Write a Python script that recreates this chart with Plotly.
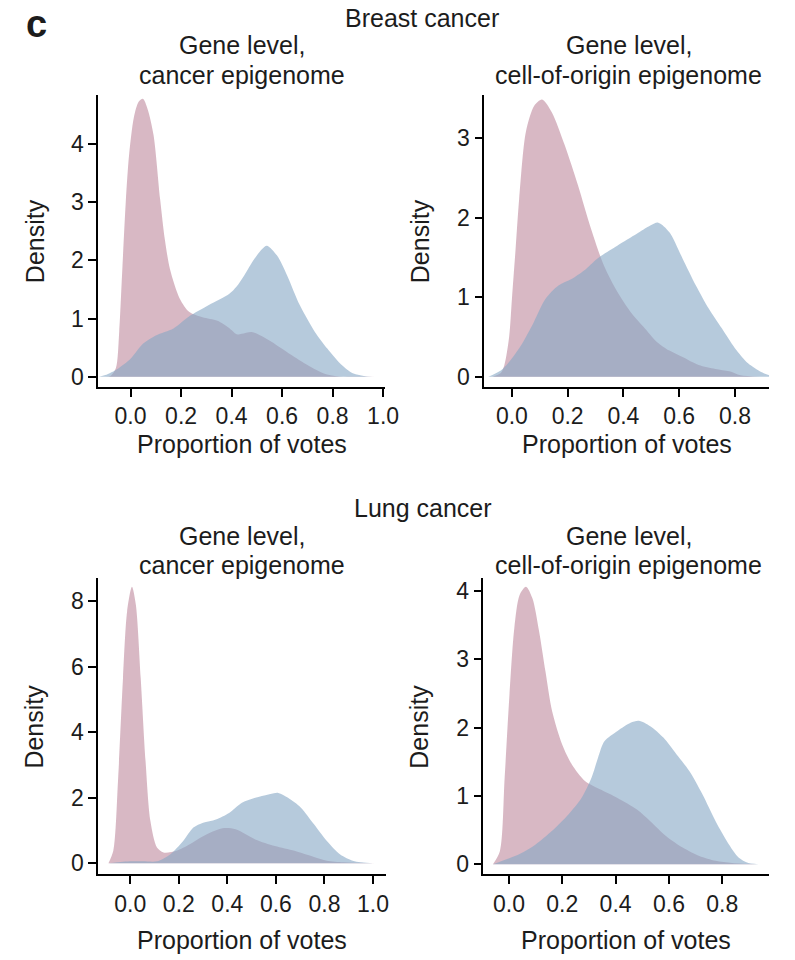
import plotly.graph_objects as go

# ---- density curves (proportion of votes -> density) ----
# Breast cancer, gene level, cancer epigenome
bc_ce_pink_x = [-0.10, -0.078, -0.058, -0.045, -0.032, -0.019, -0.006, 0.013, 0.032, 0.049, 0.067,
                0.091, 0.117, 0.136, 0.156, 0.195, 0.233, 0.285, 0.344, 0.389, 0.42, 0.44, 0.48,
                0.519, 0.558, 0.649, 0.726, 0.778, 0.843, 0.97]
bc_ce_pink_y = [0.0, 0.02, 0.15, 0.77, 1.9, 3.0, 3.8, 4.45, 4.72, 4.77, 4.6,
                4.15, 3.05, 2.35, 1.85, 1.34, 1.11, 1.02, 0.96, 0.84, 0.73, 0.74, 0.77,
                0.70, 0.60, 0.34, 0.14, 0.04, 0.0, 0.0]
bc_ce_blue_x = [-0.125, -0.10, -0.05, 0.0, 0.05, 0.10, 0.17, 0.23, 0.31, 0.39, 0.42, 0.45, 0.49,
                0.52, 0.54, 0.58, 0.62, 0.67, 0.73, 0.78, 0.83, 0.88, 0.93, 0.97]
bc_ce_blue_y = [0.0, 0.03, 0.14, 0.31, 0.57, 0.71, 0.83, 1.03, 1.23, 1.42, 1.55, 1.74, 2.02,
                2.19, 2.25, 2.08, 1.74, 1.23, 0.77, 0.48, 0.23, 0.06, 0.01, 0.0]

# Breast cancer, gene level, cell-of-origin epigenome
bc_co_pink_x = [-0.07, -0.04, -0.027, -0.01, 0.0, 0.013, 0.026, 0.05, 0.08, 0.108, 0.143, 0.19,
                0.237, 0.284, 0.33, 0.378, 0.425, 0.472, 0.52, 0.565, 0.612, 0.67, 0.73, 0.78,
                0.82, 0.89]
bc_co_pink_y = [0.0, 0.05, 0.15, 0.5, 0.98, 1.6, 2.24, 3.08, 3.41, 3.49, 3.33, 2.91,
                2.41, 1.86, 1.40, 1.07, 0.82, 0.63, 0.44, 0.33, 0.25, 0.15, 0.10, 0.07,
                0.02, 0.0]
bc_co_blue_x = [-0.085, -0.033, 0.026, 0.073, 0.12, 0.167, 0.214, 0.26, 0.307, 0.378, 0.448,
                0.495, 0.525, 0.565, 0.612, 0.66, 0.706, 0.753, 0.80, 0.847, 0.894, 0.923]
bc_co_blue_y = [0.0, 0.10, 0.36, 0.65, 0.98, 1.15, 1.23, 1.34, 1.49, 1.65, 1.80,
                1.90, 1.94, 1.82, 1.49, 1.15, 0.86, 0.61, 0.36, 0.17, 0.06, 0.02]

# Lung cancer, gene level, cancer epigenome
lc_ce_pink_x = [-0.09, -0.07, -0.05, -0.03, -0.013, 0.007, 0.023, 0.043, 0.063, 0.083, 0.11,
                0.137, 0.19, 0.245, 0.30, 0.38, 0.434, 0.515, 0.596, 0.677, 0.757, 0.81, 0.88,
                1.01]
lc_ce_pink_y = [0.0, 0.38, 2.6, 5.66, 7.7, 8.45, 7.9, 5.66, 3.12, 1.29, 0.48,
                0.33, 0.38, 0.58, 0.83, 1.07, 1.04, 0.73, 0.53, 0.38, 0.19, 0.08, 0.03,
                0.0]
lc_ce_blue_x = [-0.09, -0.03, 0.05, 0.11, 0.164, 0.218, 0.26, 0.30, 0.353, 0.407, 0.46, 0.515,
                0.569, 0.61, 0.65, 0.703, 0.757, 0.81, 0.865, 0.92, 1.0]
lc_ce_blue_y = [0.0, 0.05, 0.06, 0.06, 0.27, 0.68, 1.09, 1.24, 1.34, 1.54, 1.85, 2.0,
                2.1, 2.15, 2.0, 1.70, 1.19, 0.68, 0.27, 0.07, 0.0]

# Lung cancer, gene level, cell-of-origin epigenome
lc_co_pink_x = [-0.06, -0.034, -0.016, 0.002, 0.02, 0.04, 0.064, 0.088, 0.113, 0.137, 0.162,
                0.20, 0.236, 0.285, 0.346, 0.407, 0.48, 0.53, 0.59, 0.653, 0.714, 0.775, 0.837,
                0.95]
lc_co_pink_y = [0.0, 0.19, 1.27, 2.48, 3.45, 3.94, 4.06, 3.89, 3.41, 2.82, 2.24,
                1.75, 1.46, 1.22, 1.09, 0.97, 0.80, 0.63, 0.41, 0.24, 0.12, 0.05, 0.02,
                0.0]
lc_co_blue_x = [-0.06, 0.04, 0.10, 0.162, 0.223, 0.272, 0.31, 0.334, 0.358, 0.407, 0.456,
                0.487, 0.53, 0.58, 0.628, 0.677, 0.726, 0.775, 0.825, 0.861, 0.898, 0.97]
lc_co_blue_y = [0.0, 0.15, 0.29, 0.49, 0.73, 0.97, 1.27, 1.56, 1.80, 1.95, 2.07,
                2.10, 2.02, 1.85, 1.61, 1.36, 1.02, 0.63, 0.29, 0.10, 0.02, 0.0]

# Tick values / labels
x_ticks_full = [0.0, 0.2, 0.4, 0.6, 0.8, 1.0]
x_ticks_short = [0.0, 0.2, 0.4, 0.6, 0.8]
y_ticks_bc_ce = [0, 1, 2, 3, 4]
y_ticks_bc_co = [0, 1, 2, 3]
y_ticks_lc_ce = [0, 2, 4, 6, 8]
y_ticks_lc_co = [0, 1, 2, 3, 4]

group_titles = ["Breast cancer", "Lung cancer"]
panel_title_line1 = "Gene level,"
panel_title_line2 = ["cancer epigenome", "cell-of-origin epigenome"]
x_label = "Proportion of votes"
y_label = "Density"

PINK = "rgba(190,137,157,0.6)"
BLUE = "rgba(133,167,197,0.6)"
TEXT = "#1c1c1c"
FONT = "Liberation Sans, Arial, sans-serif"
LABEL_SIZE = 25
TICK_SIZE = 23
W, H = 795, 960

# Panel geometry in pixels: (left, right, top, bottom), axis ranges
panels = [
    dict(px=(100, 392, 95, 388), xr=(-0.128, 1.008), yr=(-0.171, 4.84),
         xt=x_ticks_full, yt=y_ticks_bc_ce, xlab_y=445,
         pink=(bc_ce_pink_x, bc_ce_pink_y), blue=(bc_ce_blue_x, bc_ce_blue_y)),
    dict(px=(493, 783, 95, 388), xr=(-0.099, 0.923), yr=(-0.125, 3.55),
         xt=x_ticks_short, yt=y_ticks_bc_co, xlab_y=445,
         pink=(bc_co_pink_x, bc_co_pink_y), blue=(bc_co_blue_x, bc_co_blue_y)),
    dict(px=(100, 393, 580, 877), xr=(-0.132, 1.054), yr=(-0.335, 8.71),
         xt=x_ticks_full, yt=y_ticks_lc_ce, xlab_y=943,
         pink=(lc_ce_pink_x, lc_ce_pink_y), blue=(lc_ce_blue_x, lc_ce_blue_y)),
    dict(px=(492, 783, 580, 877), xr=(-0.096, 0.976), yr=(-0.146, 4.185),
         xt=x_ticks_short, yt=y_ticks_lc_co, xlab_y=943,
         pink=(lc_co_pink_x, lc_co_pink_y), blue=(lc_co_blue_x, lc_co_blue_y)),
]

fig = go.Figure()
layout = dict(
    width=W, height=H, margin=dict(l=0, r=0, t=0, b=0),
    paper_bgcolor="white", plot_bgcolor="white", showlegend=False,
    font=dict(family=FONT, size=LABEL_SIZE, color=TEXT),
)

annotations = []


def ann(text, px, py, size=LABEL_SIZE, angle=0, bold=False):
    annotations.append(dict(
        text=f"<b>{text}</b>" if bold else text,
        x=px / W, y=1 - py / H, xref="paper", yref="paper",
        xanchor="center", yanchor="middle", showarrow=False, textangle=angle,
        font=dict(family=FONT, size=size, color=TEXT),
    ))


for i, p in enumerate(panels, start=1):
    xa = "x" if i == 1 else f"x{i}"
    ya = "y" if i == 1 else f"y{i}"
    for (xs, ys), col in ((p["pink"], PINK), (p["blue"], BLUE)):
        fig.add_trace(go.Scatter(
            x=xs, y=ys, xaxis=xa, yaxis=ya, mode="lines", fill="tozeroy",
            fillcolor=col, line=dict(width=0, shape="spline", smoothing=0.8),
            hoverinfo="skip",
        ))
    l, r, t, b = p["px"]
    axis_common = dict(
        showline=True, linecolor="black", linewidth=1.6, mirror=False,
        ticks="outside", ticklen=8, tickwidth=1.5, tickcolor="black",
        showgrid=False, zeroline=False, fixedrange=True,
        tickfont=dict(family=FONT, size=TICK_SIZE, color=TEXT),
    )
    layout["xaxis" if i == 1 else f"xaxis{i}"] = dict(
        domain=[l / W, r / W], range=list(p["xr"]), anchor=ya,
        tickvals=p["xt"], ticktext=[f"{v:.1f}" for v in p["xt"]], **axis_common)
    layout["yaxis" if i == 1 else f"yaxis{i}"] = dict(
        domain=[1 - b / H, 1 - t / H], range=list(p["yr"]), anchor=xa,
        tickvals=p["yt"], ticktext=[str(v) for v in p["yt"]], **axis_common)

    cx = (l + r) / 2
    ann(y_label, 35 if i in (1, 3) else 427, (t + b) / 2, angle=-90)
    ann(x_label, cx, p["xlab_y"])

# Group and panel titles
ann(group_titles[0], 430, 18)
ann(group_titles[1], 431, 510)
for cx, line2 in ((246, panel_title_line2[0]), (640, panel_title_line2[1])):
    ann(panel_title_line1, cx, 45)
    ann(line2, cx, 75)
    ann(panel_title_line1, cx, 538)
    ann(line2, cx, 567)

ann("c", 37, 24, size=38, bold=True)

layout["annotations"] = annotations
fig.update_layout(**layout)
fig.write_html("out.html")
